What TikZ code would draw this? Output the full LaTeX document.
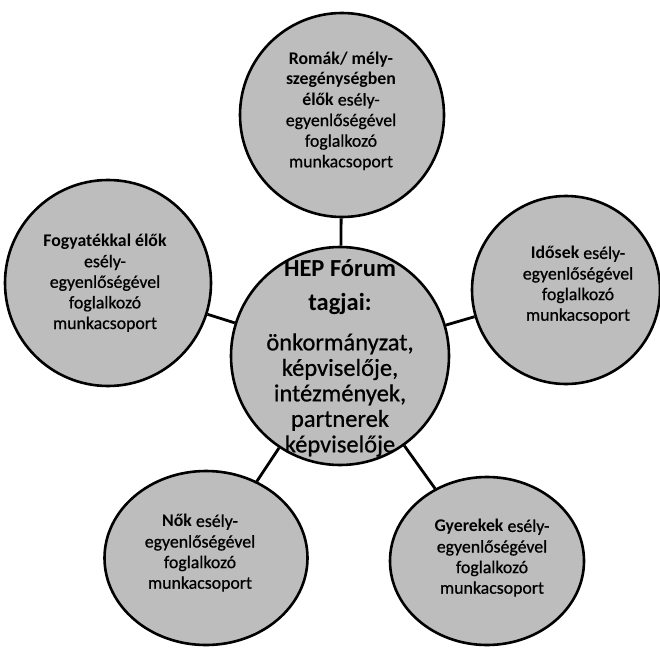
\documentclass[tikz,border=0pt]{standalone}
\usepackage{fontspec}
\setmainfont{Carlito}[UprightFeatures={FakeBold=0.7}]
\usetikzlibrary{shapes.geometric}
\begin{document}
\begin{tikzpicture}[x=1pt,y=-1pt,
  bub/.style={draw=black, line width=2.6pt, fill=black!26, inner sep=0pt},
  circ/.style={bub, circle, minimum size=#1},
  ell/.style={bub, ellipse},
  conn/.style={line width=2.8pt},
  otext/.style={align=center, inner sep=0pt, font=\fontsize{17.8}{20.6}\selectfont},
  ctext/.style={align=center, inner sep=0pt, font=\fontsize{24.5}{25.5}\selectfont}]
\useasboundingbox (0,0) rectangle (660,647);
% bubbles
\node[circ=218pt] (C) at (340,356) {};
\node[circ=204pt] (T) at (342,115) {};
\node[circ=206pt] (L) at (108,283) {};
\node[circ=188pt] (R) at (566,290) {};
\node[ell, minimum width=203pt, minimum height=174pt] (BL) at (206,558) {};
\node[ell, minimum width=194pt, minimum height=168pt] (BR) at (487,561) {};
% connectors
\draw[conn] (C) -- (T);
\draw[conn] (C) -- (L);
\draw[conn] (C) -- (R);
\draw[conn] (C) -- (BL);
\draw[conn] (C) -- (BR);
% texts
\node[ctext] (CT) at (340,358) {\textbf{HEP Fórum}\\[9pt] \textbf{tagjai:}\\[14pt] önkormányzat,\\ képviselője,\\ intézmények,\\ partnerek\\ képviselője};
\node[otext] (TT) at (341,111) {\textbf{Romák/ mély-}\\ \textbf{szegénységben}\\ \textbf{élők} esély-\\ egyenlőségével\\ foglalkozó\\ munkacsoport};
\node[otext] (LT) at (105,283) {\textbf{Fogyatékkal élők}\\ esély-\\ egyenlőségével\\ foglalkozó\\ munkacsoport};
\node[otext] (RT) at (578,285) {\textbf{Idősek} esély-\\ egyenlőségével\\ foglalkozó\\ munkacsoport};
\node[otext] (BLT) at (200,553) {\textbf{Nők} esély-\\ egyenlőségével\\ foglalkozó\\ munkacsoport};
\node[otext] (BRT) at (492,558) {\textbf{Gyerekek} esély-\\ egyenlőségével\\ foglalkozó\\ munkacsoport};
\end{tikzpicture}
\end{document}
